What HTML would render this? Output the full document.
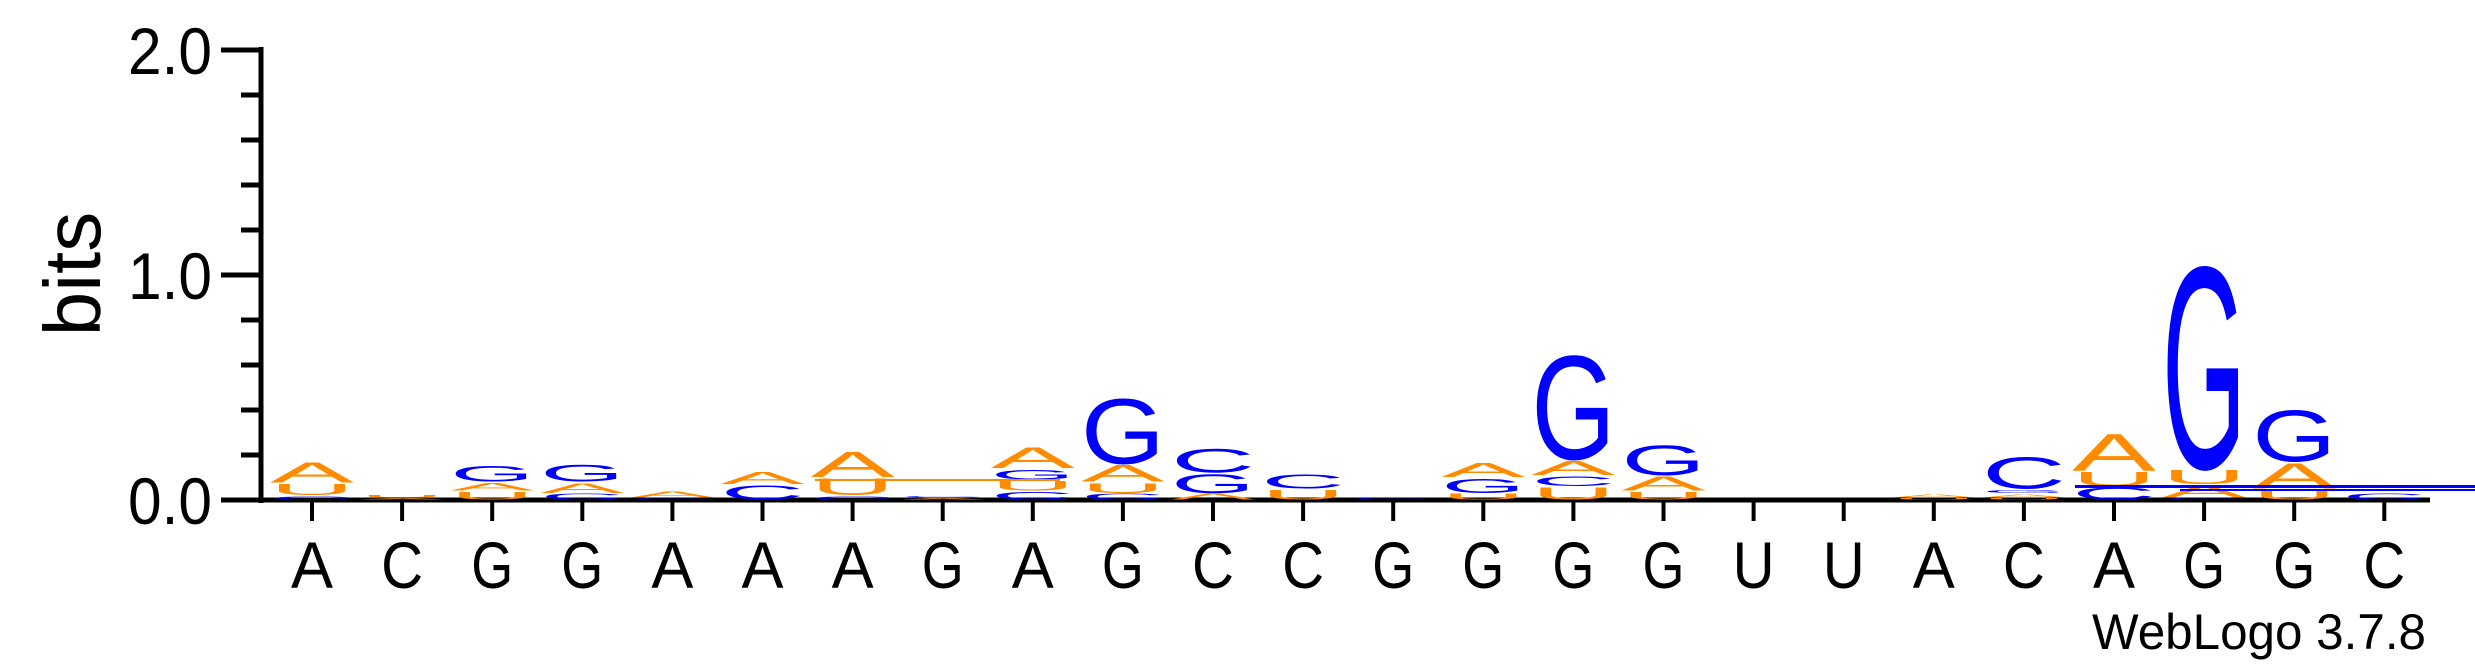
<!DOCTYPE html>
<html><head><meta charset="utf-8"><style>
html,body{margin:0;padding:0;background:#fff;}
svg{display:block;font-family:"Liberation Sans",Arial,sans-serif;}
</style></head><body>
<svg id="chart" width="2475" height="667" viewBox="0 0 2475 667" xmlns="http://www.w3.org/2000/svg">
<g id="axes"></g>
<g id="stacks"></g>
<text x="0" y="0" font-size="80" text-anchor="middle" transform="translate(100,274) rotate(-90)">bits</text>
<text x="2426" y="649" font-size="50" text-anchor="end" textLength="334" lengthAdjust="spacingAndGlyphs">WebLogo 3.7.8</text>
</svg>
<script>
const positions = ['A','C','G','G','A','A','A','G','A','G','C','C','G','G','G','G','U','U','A','C','A','G','G','C'];
const yTicks = [0, 0.2, 0.4, 0.6, 0.8, 1.0, 1.2, 1.4, 1.6, 1.8, 2.0];
const yTickLabels = ['0.0','1.0','2.0'];
const yTickLabelValues = [0, 1, 2];
// stacks bottom->top: [letter, bits]
const stackData = [
 [['C',.02],['U',.055],['A',.095]],
 [['A',.01],['U',.015]],
 [['U',.04],['A',.04],['G',.075]],
 [['C',.03],['A',.05],['G',.08]],
 [['C',.01],['A',.03]],
 [['C',.07],['A',.06]],
 [['C',.02],['U',.08],['A',.12]],
 [['A',.01],['C',.01]],
 [['C',.04],['U',.05],['G',.05],['A',.1]],
 [['C',.03],['U',.05],['A',.08],['G',.30]],
 [['A',.03],['G',.09],['C',.115]],
 [['U',.05],['C',.07]],
 [['C',.01]],
 [['U',.03],['G',.07],['A',.07]],
 [['U',.06],['C',.05],['A',.07],['G',.48]],
 [['U',.04],['A',.07],['G',.14]],
 [],
 [],
 [['U',.01],['A',.02]],
 [['U',.01],['A',.02],['G',.02],['C',.15]],
 [['C',.06],['U',.07],['A',.175]],
 [['C',.01],['A',.06],['U',.07],['G',.93]],
 [['U',.05],['A',.12],['G',.24]],
 [['C',.03]]
];
const NS='http://www.w3.org/2000/svg';
const X0=312, DX=90.1, Y0=500, PPB=225;
const xPos = i => X0 + DX*i;
const yPos = v => Y0 - v*PPB;
const colors={A:'#FF8C00',U:'#FF8C00',G:'#0000FF',C:'#0000FF'};
const adv={A:66.7,C:72.2,G:77.8,U:72.2};
function mk(tag, attrs, parent){const e=document.createElementNS(NS,tag);for(const k in attrs)e.setAttribute(k,attrs[k]);parent.appendChild(e);return e;}
const axes=document.getElementById('axes');
let e;
e=mk('line',{x1:261,y1:yPos(2)-3,x2:261,y2:Y0+3,stroke:'#000','stroke-width':5},axes);


e=mk('line',{x1:258,y1:Y0,x2:2430,y2:Y0,stroke:'#000','stroke-width':5},axes);


yTicks.forEach(v=>{
  const major = Math.abs(v-Math.round(v))<1e-6;
  const t=mk('line',{x1:major?221:241,y1:yPos(v),x2:261,y2:yPos(v),stroke:'#000','stroke-width':5},axes);
  
  
});
yTickLabels.forEach((lab,i)=>{
  const t=mk('text',{x:212,y:yPos(yTickLabelValues[i])+24,'font-size':66,'text-anchor':'end',textLength:84,lengthAdjust:'spacingAndGlyphs'},axes);
  t.textContent=lab;
  
  
});
positions.forEach((p,i)=>{
  const t=mk('line',{x1:xPos(i),y1:Y0,x2:xPos(i),y2:521,stroke:'#000','stroke-width':4},axes);
  
  
  const l=mk('text',{x:xPos(i),y:588,'font-size':66,'text-anchor':'middle',textLength:42,lengthAdjust:'spacingAndGlyphs'},axes);
  l.textContent=p;
  
  
});
const stacks=document.getElementById('stacks');
stackData.forEach((st,i)=>{
  let cum=0;
  st.forEach(([L,b])=>{
    const yb=yPos(cum), yt=yPos(cum+b);
    const h=(yb-yt)-1;
    cum+=b;
    if(h<=0.3) return;
    const sy=h/72, sx=84/adv[L];
    const t=mk('text',{x:0,y:0,'font-size':100,fill:colors[L],transform:`translate(${xPos(i)-42},${yb-0.5}) scale(${sx},${sy})`},stacks);
    t.textContent=L;
    
    
  });
});
// stretched glyph artifacts seen in the reference
e=mk('rect',{x:815,y:479,width:245,height:2,fill:'#FF8C00'},stacks);


e=mk('rect',{x:2075,y:485,width:400,height:3,fill:'#0000FF'},stacks);


e=mk('rect',{x:2180,y:489,width:295,height:2,fill:'#0000FF'},stacks);


</script>
</body></html>
